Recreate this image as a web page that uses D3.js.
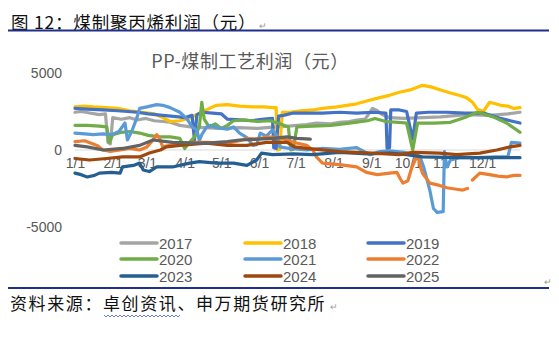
<!DOCTYPE html>
<html><head><meta charset="utf-8">
<script src="https://cdn.jsdelivr.net/npm/d3@7"></script>
<style>
html,body{margin:0;padding:0;background:#fff;}
svg{display:block;}
</style></head>
<body>
<svg id="c" width="559" height="337"></svg>
<script>
// ---- data (day of year, profit in yuan) ----
const years = ["2017","2018","2019","2020","2021","2022","2023","2024","2025"];
const tickDays = [0,31,59,90,120,151,181,212,243,273,304,334];
const tickLabels = ["1/1","2/1","3/1","4/1","5/1","6/1","7/1","8/1","9/1","10/1","11/1","12/1"];
const yTicks = [-5000,0,5000];

const s2017 = [[0,2450],[5,2500],[12,2400],[20,2300],[25,2350],[27,500],[29,400],[31,2100],[38,2000],[45,2100],[51,1950],[58,2050],[65,1900],[72,1850],[78,1800],[86,1600],[95,1500],[105,1450],[120,1400],[135,1450],[150,1400],[165,1500],[175,1550],[190,1650],[198,1750],[210,1700],[217,1800],[225,1850],[231,1950],[238,2000],[244,2700],[248,2550],[252,2300],[258,2100],[270,2050],[285,2100],[300,2150],[321,2300],[340,2250],[355,2350],[365,2450]];
const s2018 = [[0,2800],[8,2850],[15,2800],[25,2750],[35,2700],[45,2550],[55,2450],[65,2350],[72,2100],[78,1850],[86,1900],[95,2100],[105,2500],[113,2800],[116,2900],[125,2950],[135,2850],[145,2800],[155,2800],[162,2750],[165,2750],[166,0],[168,50],[170,2450],[176,2450],[185,2550],[195,2600],[203,2700],[215,2800],[231,3000],[240,3200],[250,3400],[258,3550],[266,3750],[275,3900],[285,4200],[292,4100],[300,3900],[308,3700],[315,3550],[321,3400],[326,3100],[330,2650],[335,2500],[340,3100],[345,3000],[349,2900],[355,2850],[360,2700],[365,2750]];
const s2019 = [[0,2700],[10,2650],[23,2600],[35,2550],[51,2450],[60,2350],[72,2250],[85,2150],[90,2100],[96,2250],[98,650],[100,2300],[104,2450],[113,2400],[120,2350],[125,2000],[135,1950],[145,1900],[155,2000],[162,2050],[163,150],[165,100],[167,2200],[171,2250],[179,2400],[190,2400],[203,2400],[217,2450],[231,2400],[245,2450],[255,2400],[256,100],[258,150],[259,2600],[266,2600],[272,2500],[277,700],[280,2400],[290,2450],[305,2450],[320,2400],[335,2400],[343,2200],[349,2050],[357,1900],[365,1750]];
const s2020 = [[0,1600],[10,1600],[20,1550],[26,1500],[28,500],[31,1000],[38,1150],[45,1200],[53,1100],[60,950],[70,850],[78,850],[86,750],[90,100],[94,500],[98,850],[102,1500],[104,3100],[106,2000],[110,1500],[115,1700],[120,1400],[125,1600],[130,1900],[140,1950],[150,1850],[160,1900],[168,1700],[175,1500],[177,0],[179,50],[182,1500],[195,1550],[210,1600],[225,1750],[240,1900],[246,2050],[255,1850],[265,1800],[272,1750],[277,0],[281,1750],[295,1750],[308,1800],[321,2150],[330,2450],[343,2150],[354,1750],[365,1150]];
const s2021 = [[0,1100],[8,1050],[15,1000],[23,1050],[30,1000],[36,1200],[41,1750],[43,650],[47,1300],[51,2150],[53,2700],[59,2800],[67,2950],[72,2900],[78,2750],[86,2450],[92,2000],[96,1500],[100,1300],[102,600],[104,1000],[108,1500],[111,1600],[116,1450],[125,1350],[130,1500],[135,1100],[141,800],[146,300],[149,350],[152,1100],[157,900],[162,1300],[166,900],[168,200],[176,100],[190,0],[203,100],[217,50],[231,150],[242,-300],[250,-100],[258,-50],[270,-150],[283,-450],[286,-1100],[289,-2000],[291,-2600],[294,-3800],[297,-4050],[302,-4000],[303,-100],[305,-1100],[308,-650],[315,-500],[330,-500],[345,-450],[355,-450],[358,500],[365,450]];
const s2022 = [[0,550],[8,600],[18,300],[23,0],[29,-100],[37,0],[45,100],[53,0],[59,200],[64,650],[67,1000],[69,800],[72,200],[78,300],[89,450],[100,500],[108,500],[125,450],[135,600],[141,750],[150,700],[157,850],[168,800],[179,500],[190,300],[195,0],[198,-450],[203,-850],[217,-950],[231,-1100],[239,-1450],[248,-1600],[258,-1500],[264,-1450],[267,-1900],[269,-2150],[273,-2000],[276,-1200],[279,-650],[281,-200],[283,-1000],[285,-1500],[291,-2150],[299,-2300],[305,-2450],[313,-2550],[318,-2600],[322,-2500],[324,null],[326,-1950],[332,-1500],[340,-1600],[347,-1700],[354,-1750],[360,-1650],[365,-1650]];
const s2023 = [[0,-1500],[5,-1600],[10,-1750],[16,-1650],[20,-1500],[30,-1450],[37,-1500],[39,-1100],[48,-1000],[53,-850],[56,-1300],[61,-1400],[67,-1100],[80,-1100],[94,-850],[102,-750],[116,-850],[130,-850],[141,-1000],[149,-650],[153,-200],[162,-300],[179,-250],[195,-300],[217,-150],[240,-250],[258,-200],[272,-300],[285,-450],[313,-500],[340,-500],[365,-500]];
const s2024 = [[0,-550],[12,-650],[26,-550],[39,-450],[53,-450],[61,-200],[70,0],[75,200],[86,300],[100,400],[108,450],[125,300],[141,300],[157,500],[174,500],[180,200],[190,100],[217,-100],[244,-200],[266,-300],[277,-150],[299,-200],[313,-300],[332,-200],[346,0],[357,200],[365,300]];
const s2025 = [[0,300],[10,200],[23,0],[39,100],[53,300],[64,650],[80,500],[100,450],[108,450],[125,550],[135,650],[150,700],[162,750],[174,850],[182,750],[193,700]];

const seriesData = [s2017,s2018,s2019,s2020,s2021,s2022,s2023,s2024,s2025];
const colors = ["#A5A5A5","#FFC000","#4472C4","#70AD47","#5B9BD5","#ED7D31","#255E91","#9E480E","#636363"];

// ---- drawing ----
const svg = d3.select("#c");
const cjk = "'Noto Sans CJK SC','Noto Sans',sans-serif";
const lat = "'Liberation Sans',Arial,sans-serif";

svg.append("rect").attr("width",559).attr("height",337).attr("fill","#fff");

// header
svg.append("text").attr("x",11).attr("y",29).attr("font-family",cjk)
  .attr("font-size",17.5).attr("letter-spacing",0.8).attr("fill","#111").text("图 12：煤制聚丙烯利润（元）");
svg.append("text").attr("x",259).attr("y",29).attr("font-family",lat)
  .attr("font-size",9).attr("fill","#999").text("↵");
svg.append("line").attr("x1",8).attr("x2",549).attr("y1",30.5).attr("y2",30.5)
  .attr("stroke","#1F2F8A").attr("stroke-width",2);

// chart title
svg.append("text").attr("x",250).attr("y",68).attr("text-anchor","middle")
  .attr("font-family",cjk).attr("font-size",18).attr("letter-spacing",0.6).attr("fill","#595959")
  .text("PP-煤制工艺利润（元）");

const x = d3.scaleLinear().domain([0,365]).range([75,520]);
const y = d3.scaleLinear().domain([-5000,5000]).range([227,73]);

// y tick labels
svg.append("g").selectAll("text").data(yTicks).join("text")
  .attr("x",62).attr("y",d=>y(d)+5).attr("text-anchor","end")
  .attr("font-family",lat).attr("font-size",14).attr("fill","#595959")
  .text(d=>d);

// zero axis line
svg.append("line").attr("x1",x(0)).attr("x2",x(365)).attr("y1",y(0)).attr("y2",y(0))
  .attr("stroke","#D9D9D9").attr("stroke-width",1);

// x tick labels (axis crosses at 0)
const xAxis = d3.axisBottom(x).tickValues(tickDays).tickFormat((d,i)=>tickLabels[i]).tickSize(0).tickPadding(8);
const gx = svg.append("g").attr("transform",`translate(0,${y(0)})`).call(xAxis);
gx.select(".domain").remove();
gx.selectAll("text").attr("font-family",lat).attr("font-size",14).attr("fill","#595959");

// lines
const line = d3.line().defined(d=>d[1]!==null).x(d=>x(d[0])).y(d=>y(d[1])).curve(d3.curveLinear);
svg.append("g").selectAll("path").data(seriesData).join("path")
  .attr("d",line).attr("fill","none")
  .attr("stroke",(d,i)=>colors[i]).attr("stroke-width",3.2)
  .attr("stroke-linejoin","round").attr("stroke-linecap","round");

// legend
const colX = [121,245,368];
const rowY = [243,259,276];
const lg = svg.append("g").selectAll("g").data(years).join("g")
  .attr("transform",(d,i)=>`translate(${colX[i%3]},${rowY[Math.floor(i/3)]})`);
lg.append("line").attr("x1",0).attr("x2",36).attr("y1",0).attr("y2",0)
  .attr("stroke",(d,i)=>colors[i]).attr("stroke-width",3.5).attr("stroke-linecap","round");
lg.append("text").attr("x",38).attr("y",5.5).attr("font-family",lat)
  .attr("font-size",15).attr("fill","#595959").text(d=>d);

// bottom rule and source
svg.append("text").attr("x",544).attr("y",285).attr("font-family",lat)
  .attr("font-size",9).attr("fill","#999").text("↵");
svg.append("line").attr("x1",8).attr("x2",549).attr("y1",288).attr("y2",288)
  .attr("stroke","#1F2F8A").attr("stroke-width",2);
svg.append("text").attr("x",10).attr("y",310).attr("font-family",cjk)
  .attr("font-size",17).attr("letter-spacing",1.6).attr("fill","#111").text("资料来源：卓创资讯、申万期货研究所");
svg.append("text").attr("x",330).attr("y",310).attr("font-family",lat)
  .attr("font-size",9).attr("fill","#999").text("↵");
// spell-check wavy underline under 卓创资讯
const wv = d3.path();
wv.moveTo(104,315);
for (let k=0;k<38;k++){ wv.lineTo(106+k*2, k%2 ? 315 : 317); }
svg.append("path").attr("d",wv.toString()).attr("fill","none").attr("stroke","#3B5BDB").attr("stroke-width",0.8);
</script>
</body></html>
